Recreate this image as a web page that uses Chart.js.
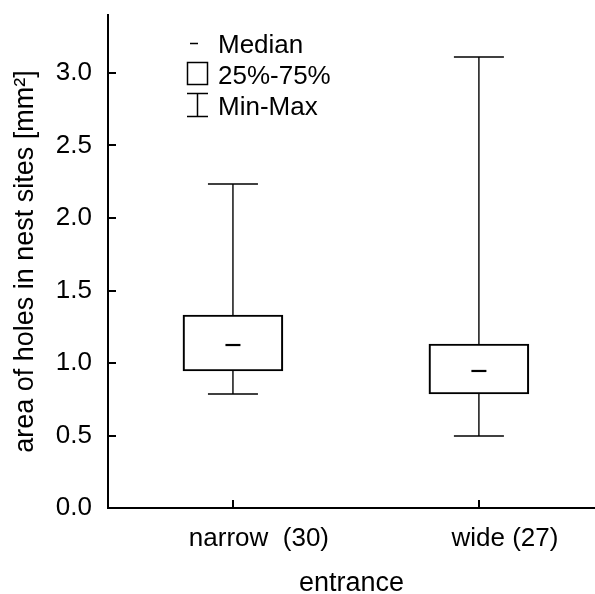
<!DOCTYPE html>
<html>
<head>
<meta charset="utf-8">
<script src="https://cdn.jsdelivr.net/npm/chart.js@4"></script>
<style>
  html, body { margin: 0; padding: 0; background: #fff; }
  #wrap { width: 595px; height: 594px; position: relative; }
</style>
</head>
<body>
<div id="wrap"><canvas id="c"></canvas></div>
<script>
// ---- data ----
const categories = ['narrow  (30)', 'wide (27)'];
const catPos = [1, 2];
const minVals = [0.786, 0.497];
const q1Vals = [0.945, 0.786];
const medianVals = [1.124, 0.945];
const q3Vals = [1.331, 1.131];
const maxVals = [2.234, 3.11];
const yTicks = [0.0, 0.5, 1.0, 1.5, 2.0, 2.5, 3.0];
const legendLabels = ['Median', '25%-75%', 'Min-Max'];
const yTitle = 'area of holes in nest sites [mm\u00B2]';
const xTitle = 'entrance';

const FONT = "'Liberation Sans', Arial, Helvetica, sans-serif";
Chart.defaults.font.family = FONT;
Chart.defaults.color = '#000';

const datasets = [];
// boxes (25%-75%)
datasets.push({
  type: 'bar',
  data: catPos.map((x, i) => ({ x: x, y: [q1Vals[i], q3Vals[i]] })),
  backgroundColor: 'rgba(0,0,0,0)',
  borderColor: '#000',
  borderWidth: 1.5,
  borderSkipped: false,
  barThickness: 100,
  order: 1
});
// whiskers
catPos.forEach((x, i) => {
  datasets.push({
    type: 'line',
    data: [{ x: x, y: q3Vals[i] }, { x: x, y: maxVals[i] }],
    borderColor: '#000', borderWidth: 1.4, pointRadius: 0, fill: false, order: 2
  });
  datasets.push({
    type: 'line',
    data: [{ x: x, y: minVals[i] }, { x: x, y: q1Vals[i] }],
    borderColor: '#000', borderWidth: 1.4, pointRadius: 0, fill: false, order: 2
  });
});
// caps (min / max)
datasets.push({
  type: 'line', showLine: false,
  data: catPos.flatMap((x, i) => [{ x: x, y: minVals[i] }, { x: x, y: maxVals[i] }]),
  pointStyle: 'line', pointRadius: 25, pointBorderWidth: 1.5,
  pointBorderColor: '#000', borderColor: '#000', order: 0
});
// medians
datasets.push({
  type: 'line', showLine: false,
  data: catPos.map((x, i) => ({ x: x, y: medianVals[i] })),
  pointStyle: 'line', pointRadius: 7.5, pointBorderWidth: 2.2,
  pointBorderColor: '#000', borderColor: '#000', order: 0
});

// inward tick marks, placed through the scales
const tickPlugin = {
  id: 'inTicks',
  afterDraw(chart) {
    const ctx = chart.ctx, xs = chart.scales.x, ys = chart.scales.y;
    const a = chart.chartArea;
    ctx.save();
    ctx.strokeStyle = '#000';
    ctx.lineWidth = 2;
    ctx.beginPath();
    ys.ticks.forEach(t => {
      const y = Math.round(ys.getPixelForValue(t.value));
      ctx.moveTo(a.left - 1, y); ctx.lineTo(a.left + 8, y);
    });
    xs.ticks.forEach(t => {
      const x = Math.round(xs.getPixelForValue(t.value));
      ctx.moveTo(x, a.bottom + 1); ctx.lineTo(x, a.bottom - 8);
    });
    ctx.stroke();
    ctx.restore();
  }
};

const legendPlugin = {
  id: 'boxLegend',
  afterDraw(chart) {
    const ctx = chart.ctx;
    ctx.save();
    ctx.strokeStyle = '#000';
    ctx.fillStyle = '#000';
    ctx.lineWidth = 1.5;
    // median dash
    ctx.beginPath(); ctx.moveTo(190, 43.5); ctx.lineTo(198, 43.5); ctx.stroke();
    // box
    ctx.strokeRect(187.5, 62.5, 20, 22);
    // I-beam
    ctx.beginPath();
    ctx.moveTo(187, 93.5); ctx.lineTo(208, 93.5);
    ctx.moveTo(187, 116.5); ctx.lineTo(208, 116.5);
    ctx.moveTo(197.5, 93.5); ctx.lineTo(197.5, 116.5);
    ctx.stroke();
    ctx.font = '26px ' + FONT;
    ctx.textBaseline = 'alphabetic';
    ctx.textAlign = 'left';
    const baselines = [53, 84, 115];
    legendLabels.forEach((t, i) => ctx.fillText(t, 218, baselines[i]));
    ctx.restore();
  }
};

function noPad(s) {
  s.paddingLeft = 0; s.paddingRight = 0; s.paddingTop = 0; s.paddingBottom = 0;
}

new Chart(document.getElementById('c'), {
  data: { datasets: datasets },
  options: {
    responsive: true,
    maintainAspectRatio: false,
    animation: false,
    layout: { autoPadding: false, padding: { left: 0, right: 0, top: 15, bottom: 0 } },
    plugins: { legend: { display: false }, tooltip: { enabled: false } },
    scales: {
      x: {
        type: 'linear',
        min: 0.492, max: 2.472,
        offset: false,
        afterBuildTicks: s => { s.ticks = catPos.map(v => ({ value: v })); },
        afterFit: s => { s.height = 86; noPad(s); },
        border: { color: '#000', width: 2 },
        grid: { display: false, drawTicks: false, offset: false },
        ticks: {
          autoSkip: false, maxRotation: 0, minRotation: 0,
          padding: 15, labelOffset: 26,
          font: { size: 26 }, color: '#000',
          callback: v => categories[catPos.indexOf(v)]
        },
        title: { display: true, text: xTitle, font: { size: 27 }, color: '#000', padding: { top: 0, bottom: -6 } }
      },
      y: {
        type: 'linear',
        min: 0, max: 3.4,
        afterBuildTicks: s => { s.ticks = yTicks.map(v => ({ value: v })); },
        afterFit: s => { s.width = 108; noPad(s); },
        border: { color: '#000', width: 2 },
        grid: { display: false, drawTicks: false, offset: false },
        ticks: {
          padding: 16, font: { size: 26 }, color: '#000',
          callback: v => v.toFixed(1)
        },
        title: { display: true, text: yTitle, font: { size: 27 }, color: '#000', padding: { top: 9, bottom: 0 } }
      }
    }
  },
  plugins: [tickPlugin, legendPlugin]
});
</script>
</body>
</html>
